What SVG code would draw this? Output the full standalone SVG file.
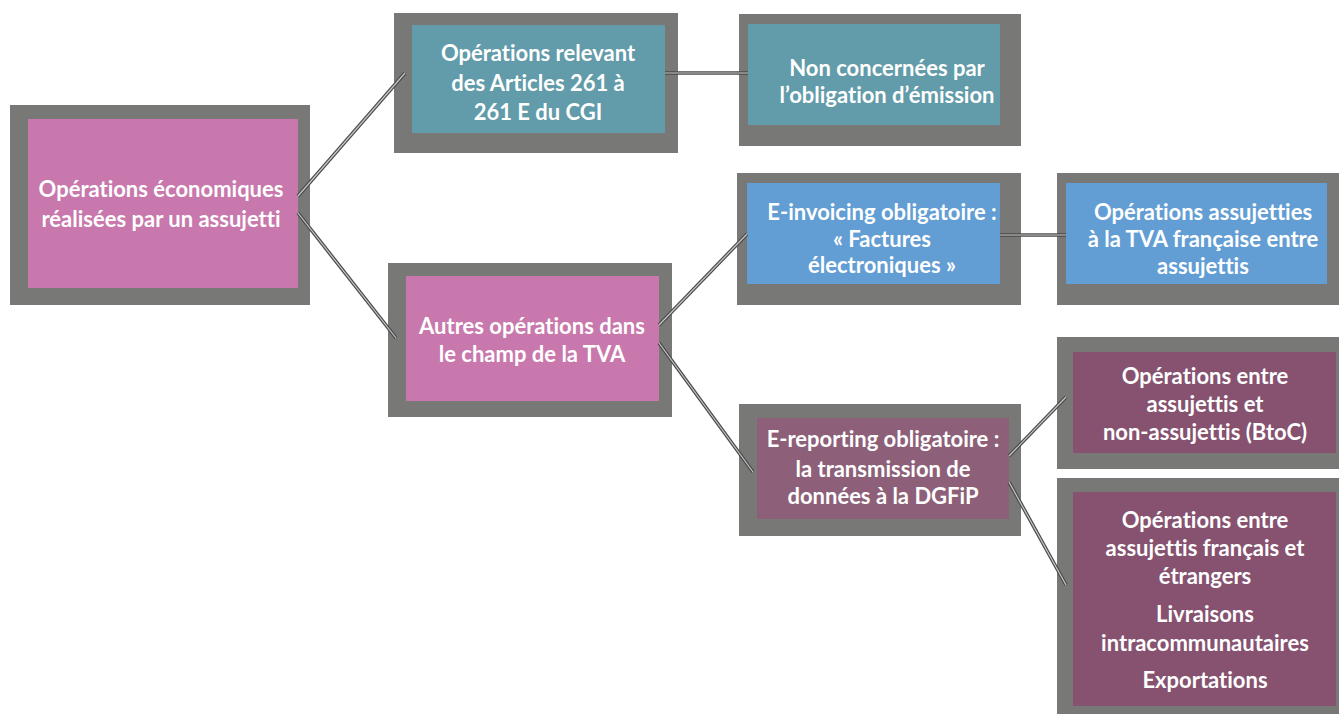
<svg xmlns="http://www.w3.org/2000/svg" width="1339" height="714" viewBox="0 0 1339 714">
<style>
.frame{fill:#787876}
.pink{fill:#C878AC}
.teal{fill:#629BA9}
.blue{fill:#629DD3}
.mauve{fill:#8D5F78}
.plum{fill:#86526F}
text{font-family:Lato,"Liberation Sans",sans-serif;font-weight:bold;font-size:22px;fill:#FFFFFF;text-anchor:middle;font-variant-ligatures:none}
.ln1{stroke:#4a4a4a;stroke-width:3.6;fill:none}
.ln2{stroke:#c8c8c8;stroke-width:1.2;fill:none}
</style>
<rect width="1339" height="714" fill="#FFFFFF"/>
<g id="n1">
<rect class="frame" x="10" y="105" width="300" height="200"/>
<rect class="pink" x="28" y="119" width="270" height="169"/>
<text x="161" y="197">Opérations économiques</text>
<text x="161" y="227">réalisées par un assujetti</text>
</g>
<g id="n2">
<rect class="frame" x="394" y="13" width="284" height="140"/>
<rect class="teal" x="412" y="25" width="253" height="108"/>
<text x="538" y="61">Opérations relevant</text>
<text x="538" y="91">des Articles 261 à</text>
<text x="538" y="120">261 E du CGI</text>
</g>
<g id="n3">
<rect class="frame" x="739" y="14" width="282" height="132"/>
<rect class="teal" x="748" y="24" width="252" height="101"/>
<text x="887" y="76">Non concernées par</text>
<text x="887" y="103">l’obligation d’émission</text>
</g>
<g id="n4">
<rect class="frame" x="388" y="263" width="284" height="154"/>
<rect class="pink" x="406" y="276" width="253" height="125"/>
<text x="532" y="334">Autres opérations dans</text>
<text x="532" y="362">le champ de la TVA</text>
</g>
<g id="n5">
<rect class="frame" x="737" y="173" width="284" height="132"/>
<rect class="blue" x="747" y="183" width="253" height="101"/>
<text x="882" y="220">E-invoicing obligatoire :</text>
<text x="882" y="247">« Factures</text>
<text x="882" y="273">électroniques »</text>
</g>
<g id="n6">
<rect class="frame" x="739" y="404" width="282" height="132"/>
<rect class="mauve" x="757" y="418" width="252" height="101"/>
<text x="883" y="447">E-reporting obligatoire :</text>
<text x="883" y="477">la transmission de</text>
<text x="883" y="504">données à la DGFiP</text>
</g>
<g id="n7">
<rect class="frame" x="1057" y="173" width="282" height="132"/>
<rect class="blue" x="1066" y="183" width="261" height="101"/>
<text x="1203" y="220">Opérations assujetties</text>
<text x="1203" y="247">à la TVA française entre</text>
<text x="1203" y="274">assujettis</text>
</g>
<g id="n8">
<rect class="frame" x="1057" y="337" width="282" height="132"/>
<rect class="plum" x="1073" y="352" width="263" height="101"/>
<text x="1205" y="384">Opérations entre</text>
<text x="1205" y="412">assujettis et</text>
<text x="1205" y="440">non-assujettis (BtoC)</text>
</g>
<g id="n9">
<rect class="frame" x="1057" y="478" width="282" height="236"/>
<rect class="plum" x="1073" y="492" width="263" height="214"/>
<text x="1205" y="528">Opérations entre</text>
<text x="1205" y="556">assujettis français et</text>
<text x="1205" y="584">étrangers</text>
<text x="1205" y="622">Livraisons</text>
<text x="1205" y="651">intracommunautaires</text>
<text x="1205" y="688">Exportations</text>
</g>
<g id="connectors">
<g class="ln1">
<line x1="298" y1="196" x2="405" y2="73"/>
<line x1="298" y1="213" x2="396" y2="338"/>
<line x1="665" y1="73" x2="748" y2="73"/>
<line x1="659" y1="325" x2="747" y2="234"/>
<line x1="659" y1="343" x2="753" y2="472"/>
<line x1="1000" y1="235" x2="1066" y2="235"/>
<line x1="1009" y1="456" x2="1066" y2="397"/>
<line x1="1009" y1="482" x2="1066" y2="585"/>
</g>
<g class="ln2">
<line x1="298" y1="196" x2="405" y2="73"/>
<line x1="298" y1="213" x2="396" y2="338"/>
<line x1="665" y1="73" x2="748" y2="73"/>
<line x1="659" y1="325" x2="747" y2="234"/>
<line x1="659" y1="343" x2="753" y2="472"/>
<line x1="1000" y1="235" x2="1066" y2="235"/>
<line x1="1009" y1="456" x2="1066" y2="397"/>
<line x1="1009" y1="482" x2="1066" y2="585"/>
</g>
</g>
</svg>
